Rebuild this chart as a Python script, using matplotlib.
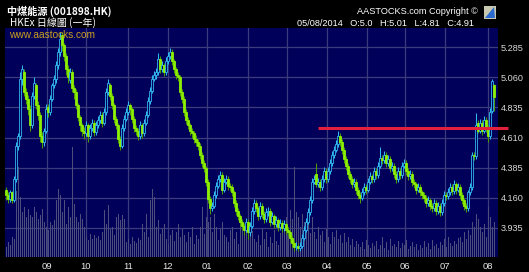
import matplotlib
matplotlib.use("Agg")
import matplotlib.pyplot as plt
from matplotlib.patches import Polygon, Rectangle

# ---------------- data ----------------
opens = [4.22,4.18,4.15,4.20,4.14,4.30,4.55,4.62,5.05,5.10,
         4.95,4.90,4.82,4.70,4.92,5.00,4.85,4.78,4.62,4.58,
         4.66,4.84,4.80,4.90,5.00,5.05,5.15,5.25,5.38,5.30,
         5.22,5.12,5.04,5.10,4.98,4.95,4.85,4.76,4.70,4.66,
         4.64,4.70,4.62,4.68,4.72,4.65,4.70,4.74,4.78,4.72,
         4.80,4.95,5.00,4.92,4.85,4.75,4.70,4.60,4.55,4.68,
         4.75,4.80,4.85,4.82,4.75,4.68,4.66,4.62,4.70,4.64,
         4.72,4.78,4.88,4.96,5.05,5.08,5.10,5.20,5.12,5.15,
         5.10,5.18,5.22,5.25,5.18,5.12,5.08,5.06,4.95,4.90,
         4.80,4.74,4.70,4.66,4.64,4.60,4.58,4.55,4.48,4.42,
         4.38,4.28,4.15,4.08,4.10,4.18,4.25,4.30,4.33,4.22,
         4.28,4.30,4.25,4.24,4.20,4.12,4.06,4.02,3.98,3.95,
         3.92,3.98,3.90,3.95,4.06,4.12,4.08,4.02,4.10,4.04,
         4.00,4.05,4.06,3.98,4.02,3.96,3.99,3.94,3.97,3.93,
         3.96,3.92,3.90,3.86,3.82,3.79,3.80,3.78,3.80,3.86,
         3.92,3.98,4.05,4.14,4.28,4.34,4.26,4.28,4.24,4.30,
         4.36,4.30,4.36,4.42,4.48,4.52,4.56,4.62,4.58,4.52,
         4.45,4.40,4.34,4.30,4.26,4.28,4.22,4.18,4.16,4.20,
         4.24,4.22,4.28,4.32,4.30,4.36,4.33,4.40,4.46,4.44,
         4.48,4.42,4.45,4.38,4.40,4.34,4.30,4.36,4.33,4.40,
         4.42,4.36,4.32,4.34,4.28,4.26,4.22,4.24,4.20,4.18,
         4.16,4.12,4.14,4.10,4.08,4.12,4.06,4.10,4.05,4.12,
         4.18,4.17,4.20,4.24,4.21,4.26,4.22,4.24,4.18,4.14,
         4.10,4.08,4.20,4.24,4.48,4.47,4.72,4.66,4.72,4.66,
         4.74,4.68,4.62,4.81,5.00]
highs = [4.24,4.20,4.22,4.21,4.32,4.58,4.64,5.10,5.15,5.12,
         4.98,4.93,4.85,4.95,5.06,5.02,4.88,4.80,4.65,4.68,
         4.86,4.86,4.93,5.02,5.08,5.18,5.28,5.40,5.40,5.32,
         5.24,5.15,5.13,5.12,5.00,4.97,4.87,4.78,4.72,4.69,
         4.73,4.72,4.71,4.75,4.74,4.73,4.77,4.81,4.80,4.83,
         4.98,5.05,5.02,4.94,4.87,4.77,4.72,4.62,4.71,4.78,
         4.83,4.88,4.87,4.84,4.77,4.70,4.68,4.73,4.72,4.75,
         4.81,4.91,4.99,5.08,5.11,5.13,5.24,5.22,5.18,5.17,
         5.21,5.25,5.28,5.27,5.20,5.14,5.10,5.08,4.97,4.92,
         4.82,4.76,4.72,4.68,4.66,4.63,4.60,4.57,4.50,4.44,
         4.40,4.30,4.17,4.13,4.21,4.28,4.33,4.36,4.35,4.31,
         4.33,4.32,4.27,4.26,4.22,4.14,4.08,4.04,4.00,3.97,
         4.01,4.00,3.98,4.09,4.15,4.14,4.10,4.13,4.12,4.06,
         4.08,4.09,4.08,4.05,4.04,4.02,4.01,4.00,3.99,3.99,
         3.98,3.94,3.92,3.88,3.84,3.83,3.82,3.83,3.89,3.95,
         4.01,4.08,4.17,4.31,4.33,4.42,4.31,4.30,4.33,4.39,
         4.38,4.39,4.45,4.51,4.55,4.59,4.66,4.64,4.60,4.54,
         4.47,4.42,4.36,4.32,4.31,4.30,4.24,4.20,4.23,4.27,
         4.26,4.31,4.35,4.34,4.39,4.38,4.43,4.54,4.48,4.51,
         4.50,4.48,4.47,4.43,4.42,4.36,4.39,4.38,4.43,4.45,
         4.44,4.38,4.37,4.36,4.30,4.28,4.27,4.26,4.22,4.20,
         4.18,4.17,4.16,4.12,4.15,4.14,4.13,4.12,4.15,4.21,
         4.20,4.23,4.27,4.26,4.29,4.28,4.27,4.26,4.20,4.16,
         4.12,4.22,4.27,4.50,4.50,4.79,4.74,4.75,4.74,4.77,
         4.76,4.70,4.83,5.05,5.01]
lows = [4.14,4.12,4.13,4.12,4.13,4.28,4.52,4.60,5.00,4.92,
        4.86,4.78,4.66,4.68,4.90,4.82,4.74,4.58,4.53,4.55,
        4.64,4.76,4.78,4.88,4.98,5.02,5.12,5.22,5.26,5.18,
        5.08,5.02,5.02,4.95,4.90,4.82,4.73,4.66,4.62,4.60,
        4.62,4.58,4.60,4.66,4.62,4.63,4.68,4.72,4.69,4.70,
        4.78,4.93,4.89,4.82,4.72,4.67,4.57,4.52,4.53,4.66,
        4.73,4.78,4.78,4.72,4.65,4.63,4.59,4.60,4.61,4.62,
        4.70,4.76,4.86,4.94,5.03,5.05,5.08,5.09,5.10,5.07,
        5.08,5.16,5.20,5.15,5.09,5.05,5.03,4.92,4.87,4.77,
        4.71,4.67,4.63,4.61,4.57,4.55,4.52,4.45,4.39,4.35,
        4.25,4.12,4.04,4.06,4.08,4.16,4.23,4.28,4.19,4.20,
        4.26,4.22,4.21,4.17,4.09,4.03,3.99,3.95,3.92,3.88,
        3.90,3.85,3.87,3.93,4.04,4.05,3.99,4.00,4.01,3.97,
        3.98,4.02,3.95,3.96,3.93,3.94,3.91,3.92,3.90,3.91,
        3.89,3.87,3.83,3.79,3.76,3.77,3.76,3.76,3.78,3.84,
        3.90,3.96,4.03,4.12,4.26,4.24,4.24,4.21,4.22,4.28,
        4.27,4.28,4.34,4.40,4.46,4.50,4.54,4.55,4.49,4.42,
        4.37,4.31,4.27,4.23,4.24,4.19,4.15,4.12,4.14,4.18,
        4.19,4.20,4.26,4.27,4.28,4.30,4.31,4.38,4.41,4.42,
        4.39,4.40,4.35,4.36,4.31,4.27,4.28,4.30,4.31,4.38,
        4.33,4.29,4.30,4.25,4.23,4.19,4.20,4.17,4.15,4.13,
        4.09,4.10,4.07,4.05,4.06,4.03,4.04,4.02,4.03,4.10,
        4.14,4.15,4.18,4.18,4.19,4.19,4.20,4.15,4.11,4.07,
        4.05,4.06,4.18,4.22,4.44,4.45,4.64,4.64,4.63,4.64,
        4.65,4.58,4.60,4.79,4.81]
closes = [4.18,4.15,4.20,4.14,4.30,4.55,4.62,5.05,5.12,4.95,
          4.90,4.82,4.70,4.92,5.02,4.85,4.78,4.62,4.58,4.66,
          4.82,4.80,4.90,5.00,5.05,5.15,5.25,5.35,5.30,5.22,
          5.12,5.06,5.10,4.98,4.95,4.85,4.76,4.70,4.66,4.64,
          4.70,4.62,4.68,4.72,4.65,4.70,4.74,4.78,4.72,4.80,
          4.95,5.02,4.92,4.85,4.75,4.70,4.60,4.55,4.68,4.75,
          4.80,4.85,4.82,4.75,4.68,4.66,4.62,4.70,4.64,4.72,
          4.78,4.88,4.96,5.05,5.08,5.10,5.20,5.12,5.15,5.10,
          5.18,5.22,5.25,5.18,5.12,5.08,5.06,4.95,4.90,4.80,
          4.74,4.70,4.66,4.64,4.60,4.58,4.55,4.48,4.42,4.38,
          4.28,4.15,4.08,4.10,4.18,4.25,4.30,4.33,4.22,4.28,
          4.30,4.25,4.24,4.20,4.12,4.06,4.02,3.98,3.95,3.92,
          3.98,3.90,3.95,4.06,4.12,4.08,4.02,4.10,4.04,4.00,
          4.05,4.06,3.98,4.02,3.96,3.99,3.94,3.97,3.93,3.96,
          3.92,3.90,3.86,3.82,3.79,3.80,3.78,3.80,3.86,3.92,
          3.98,4.05,4.14,4.28,4.30,4.26,4.28,4.24,4.30,4.36,
          4.30,4.36,4.42,4.48,4.52,4.56,4.62,4.58,4.52,4.45,
          4.40,4.34,4.30,4.26,4.28,4.22,4.18,4.16,4.20,4.24,
          4.22,4.28,4.32,4.30,4.36,4.33,4.40,4.46,4.44,4.48,
          4.42,4.45,4.38,4.40,4.34,4.30,4.36,4.33,4.40,4.42,
          4.36,4.32,4.34,4.28,4.26,4.22,4.24,4.20,4.18,4.16,
          4.12,4.14,4.10,4.08,4.12,4.06,4.10,4.05,4.12,4.18,
          4.17,4.20,4.24,4.21,4.26,4.22,4.24,4.18,4.14,4.10,
          4.08,4.20,4.24,4.48,4.47,4.70,4.66,4.72,4.66,4.74,
          4.68,4.62,4.80,5.03,4.91]
volumes = [10,15,12,20,18, 66,90,60, 45,50,40,48,42,
           40,50,45,38,42,48,35, 30,27,35,32,37, 57,68,62,
           45,57,33,50,40, 110, 53,40,35,43,38,30,
           20,17,23,18,22,19,21,17, 25,47,33,52,28,30,22,
           40,43,37,42,38, 15,18,13,20,16,14,19,17,
           33,25,43,20,57,68,60, 30,37,23,28,33,
           18,13,22,27,16, 25,33,20,28,22,
           15,25,20,30,13,22,18, 30,50,23,40,35,
           40,25,43,30,17,28,35,22, 20,15,27,30,18,25,13,
           37,30,24,28,20,24,26,18,
           15,22,12,28,18,25,10,20,14,27,16,12,
           24,35,28,40,30, 47,38,90,45,40,
           30,43,35,28,33,24,40,25, 18,30,22,26,15,28,20,13,
           25,20,27,18,22,14,24, 15,20,12,18,10,16,13,
           10,15,8,17,12,9,14,11,16,8,
           12,20,9,15,7,18,11,13,10,16,
           9,14,12,17,8,11,15,10,13,7,
           12,9,16,10,14,8,17,11,13,9,
           15,12,18,10,20,14,11,16,13,19,
           20,15,25,18,27,22,35, 30,43,38,30,
           25,33,20,50, 40,30,35]
month_labels = ["09","10","11","12","01","02","03","04","05","06","07","08"]
month_pos = [20.5,40,61,81,100.5,121,140.5,160.5,180.5,199.5,219.5,241]
price_ticks = [3.935,4.160,4.385,4.610,4.835,5.060,5.285]
resistance = 4.683
resist_start = 156

# ---------------- style ----------------
BG = "#00005a"
GRID = "#3c3c7c"
CYAN = "#30b8f0"
LIME = "#8cf000"
DGREEN = "#4a9a00"
VOL = "#4e4e7c"
LAT = ["Liberation Sans", "DejaVu Sans"]
CJK = ["Noto Sans CJK TC", "DejaVu Sans"]

W, H = 529, 272
YMIN, YMAX = 3.718, 5.4295
fig = plt.figure(figsize=(W/100, H/100), dpi=100, facecolor="black")
ax_l, ax_b, ax_w, ax_h = 5/W, (H-256.7)/H, 493/W, 228.7/H
axv = fig.add_axes([ax_l, ax_b, ax_w, ax_h])
axv.set_facecolor(BG)
ax = fig.add_axes([ax_l, ax_b, ax_w, ax_h], sharex=axv)
ax.patch.set_alpha(0)

n = len(closes)
idx = list(range(n))

# grid + volume (back axes)
axv.set_ylim(0, 228.7)
axv.set_yticks([])
for s in axv.spines.values():
    s.set_visible(False)
axv.set_xticks(month_pos)
axv.grid(True, axis="x", color=GRID, lw=0.9, zorder=1)
axv.set_axisbelow(True)
axv.tick_params(axis="x", length=0, labelbottom=False)
for yv in price_ticks:
    axv.axhline((yv - YMIN) / (YMAX - YMIN) * 228.7, color=GRID, lw=0.9, zorder=1)
axv.bar(idx, volumes[:n], width=0.5, color=VOL, zorder=2)

# candles
up = [c >= o for o, c in zip(opens, closes)]
wick_col = [CYAN if u else DGREEN for u in up]
ax.vlines(idx, lows, highs, colors=wick_col, lw=0.75, zorder=3)
bottoms = [min(o, c) for o, c in zip(opens, closes)]
heights = [max(abs(c - o), 0.008) for o, c in zip(opens, closes)]
ax.bar(idx, heights, bottom=bottoms, width=0.75,
       color=[BG if u else LIME for u in up],
       edgecolor=[CYAN if u else LIME for u in up], lw=0.6, zorder=4)

ax.set_xlim(-0.5, 246.0)
ax.set_ylim(YMIN, YMAX)
ax.set_yticks(price_ticks)
ax.set_yticklabels([f"{v:.3f}" for v in price_ticks], family=LAT,
                   fontsize=6.6, color="#d8d8d8")
ax.yaxis.tick_right()
ax.tick_params(axis="y", length=0, pad=2)
ax.set_xticks(month_pos)
ax.set_xticklabels(month_labels, family=LAT, fontsize=6.8, color="#e8e8e8")
ax.tick_params(axis="x", length=0, pad=4)
for s in ax.spines.values():
    s.set_visible(False)

# resistance line
ax.plot([resist_start, 251], [resistance, resistance], color="#e0203c",
        lw=2.2, solid_capstyle="butt", clip_on=False, zorder=6)

# header texts
fig.text(7/W, 1 - 11/H, "中煤能源 (001898.HK)", family=CJK, fontsize=7.3,
         fontweight="bold", color="white", va="center", ha="left")
fig.text(10/W, 1 - 23/H, "HKEx 日線圖 (一年)", family=CJK, fontsize=7.2,
         color="white", va="center", ha="left")
fig.text(9/W, 1 - 34.5/H, "www.aastocks.com", family=LAT, fontsize=7.3,
         color="#caa020", va="center", ha="left", zorder=10)
fig.text(478/W, 1 - 11/H, "AASTOCKS.com Copyright ©", family=LAT, fontsize=6.6,
         color="white", va="center", ha="right")
fig.text(474/W, 1 - 23/H, "05/08/2014   O:5.0   H:5.01   L:4.81   C:4.91",
         family=LAT, fontsize=6.6, color="white", va="center", ha="right")

# logo
fig.patches.append(Rectangle((484/W, 1 - 19/H), 12/W, 13/H, transform=fig.transFigure,
                             facecolor="#c8c8b0", edgecolor="none"))
fig.patches.append(Polygon([(485/W, 1 - 18/H), (494/W, 1 - 7/H), (495/W, 1 - 18/H)],
                           closed=True, transform=fig.transFigure,
                           facecolor="#2a6ad0", edgecolor="none"))

fig.savefig("out.png", dpi=100, facecolor="black")
